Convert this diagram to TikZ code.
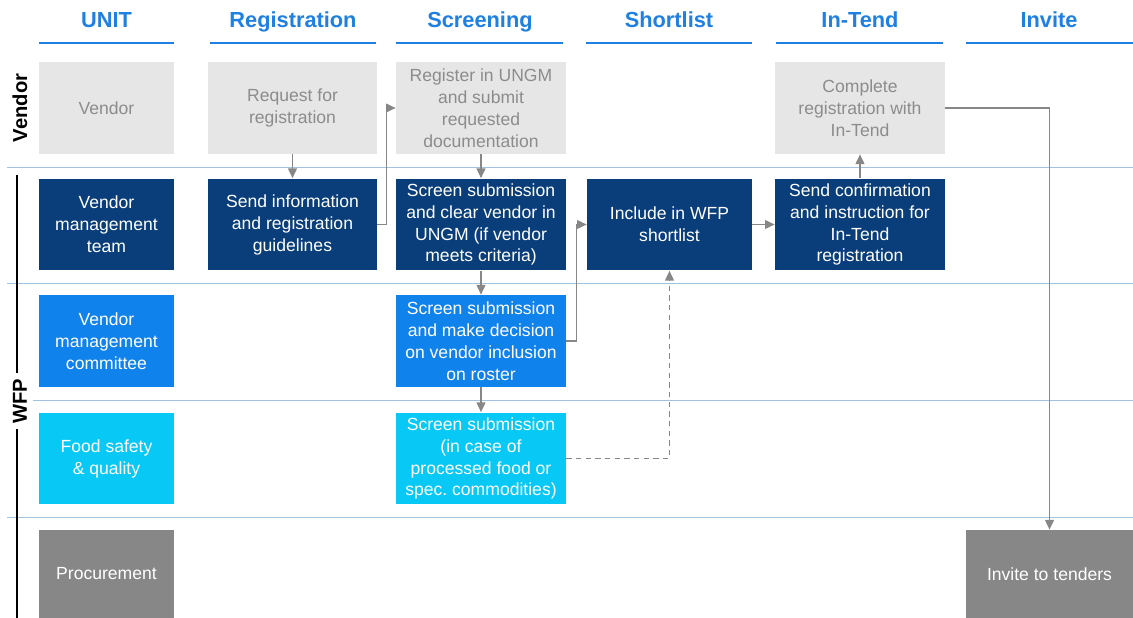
\documentclass[tikz,border=0pt]{standalone}
\usepackage{fontspec}
\setmainfont{Liberation Sans}
\usepackage{xcolor}
\usetikzlibrary{arrows.meta}
\frenchspacing

\definecolor{wfpnavy}{RGB}{9,62,122}
\definecolor{wfpblue}{RGB}{16,130,235}
\definecolor{wfpcyan}{RGB}{8,200,245}
\definecolor{vendorgray}{RGB}{230,230,230}
\definecolor{vendortext}{RGB}{140,140,140}
\definecolor{procgray}{RGB}{135,135,135}
\definecolor{headblue}{RGB}{30,128,225}
\definecolor{laneline}{RGB}{160,195,225}
\definecolor{flowgray}{RGB}{135,135,135}

\begin{document}
\begin{tikzpicture}[x=0.02cm, y=-0.02cm,
  box/.style={rectangle, inner sep=0pt, align=center, minimum height=1.84cm,
    font=\fontsize{10}{12.5}\selectfont},
  vendorbox/.style={box, fill=vendorgray, text=vendortext},
  teambox/.style={box, fill=wfpnavy, text=white},
  committeebox/.style={box, fill=wfpblue, text=white},
  foodbox/.style={box, fill=wfpcyan, text=white},
  procbox/.style={box, fill=procgray, text=white, minimum height=1.76cm},
  header/.style={anchor=base, font=\fontsize{12.4}{14}\selectfont\bfseries, text=headblue},
  headline/.style={draw=headblue, line width=1.3pt},
  lane/.style={draw=laneline, line width=0.5pt},
  lanelabel/.style={rotate=90, font=\fontsize{11.5}{14}\selectfont\bfseries, inner sep=1.5pt},
  flow/.style={draw=flowgray, line width=0.8pt, -{Triangle[length=5.5pt,width=5pt]}},
]
    \useasboundingbox (0,0) rectangle (1133,618);

    % Column headers
    \node [header] (hunit) at (106.5,28) {UNIT};
    \node [header] (hreg) at (293,28) {Registration};
    \node [header] (hscreen) at (480,28) {Screening};
    \node [header] (hshort) at (669,28) {Shortlist};
    \node [header] (hintend) at (860,28) {In-Tend};
    \node [header] (hinvite) at (1049,28) {Invite};
    \draw [headline] (39,43) -- (174,43);
    \draw [headline] (210,43) -- (376,43);
    \draw [headline] (396,43) -- (563,43);
    \draw [headline] (586,43) -- (752,43);
    \draw [headline] (776,43) -- (943,43);
    \draw [headline] (966,43) -- (1133,43);

    % Swim lane separators
    \draw [lane] (7,167) -- (1133,167);
    \draw [lane] (7,283) -- (1133,283);
    \draw [lane] (33,400) -- (1133,400);
    \draw [lane] (7,517) -- (1133,517);

    % Lane labels
    \node [lanelabel] (lvendor) at (20,108) {Vendor};
    \draw [line width=1.2pt] (17,175) -- (17,373);
    \draw [line width=1.2pt] (17,429) -- (17,618);
    \node [lanelabel] (lwfp) at (20,401) {WFP};

    % Unit column
    \node [vendorbox, minimum width=2.7cm] (uvendor) at (106.5,108) {Vendor};
    \node [teambox, minimum width=2.7cm] (uteam) at (106.5,224.5) {Vendor\\management\\team};
    \node [committeebox, minimum width=2.7cm] (ucommittee) at (106.5,341) {Vendor\\management\\committee};
    \node [foodbox, minimum width=2.7cm] (ufood) at (106.5,458.5) {Food safety\\\& quality};
    \node [procbox, minimum width=2.7cm] (uproc) at (106.5,574) {Procurement};

    % Process steps
    \node [vendorbox, minimum width=3.38cm] (request) at (292.5,108) {Request for\\registration};
    \node [teambox, minimum width=3.38cm] (sendinfo) at (292.5,224.5) {Send information\\and registration\\guidelines};
    \node [vendorbox, minimum width=3.4cm] (register) at (481,108) {Register in UNGM\\and submit\\requested\\documentation};
    \node [teambox, minimum width=3.4cm] (clear) at (481,224.5) {Screen submission\\and clear vendor in\\UNGM (if vendor\\meets criteria)};
    \node [committeebox, minimum width=3.4cm] (decide) at (481,341) {Screen submission\\and make decision\\on vendor inclusion\\on roster};
    \node [foodbox, minimum width=3.4cm] (foodscreen) at (481,458.5) {Screen submission\\(in case of\\processed food or\\spec. commodities)};
    \node [teambox, minimum width=3.3cm] (include) at (669.5,224.5) {Include in WFP\\shortlist};
    \node [teambox, minimum width=3.4cm] (confirm) at (860,224.5) {Send confirmation\\and instruction for\\In-Tend\\registration};
    \node [vendorbox, minimum width=3.4cm] (complete) at (860,108) {Complete\\registration with\\In-Tend};
    \node [procbox, minimum width=3.34cm] (invite) at (1049.5,574) {Invite to tenders};

    % Flows
    \draw [flow] (request) -- (sendinfo);
    \draw [flow] (sendinfo.east) -- ++(9,0) |- (register.west);
    \draw [flow] (register) -- (clear);
    \draw [flow] (clear) -- (decide);
    \draw [flow] (decide) -- (foodscreen);
    \draw [flow] (decide.east) -- ++(10,0) |- (include.west);
    \draw [flow, dash pattern=on 3pt off 2.5pt] (foodscreen.east) -| (include.south);
    \draw [flow] (include) -- (confirm);
    \draw [flow] (confirm) -- (complete);
    \draw [flow] (complete.east) -| (invite.north);

\end{tikzpicture}
\end{document}
